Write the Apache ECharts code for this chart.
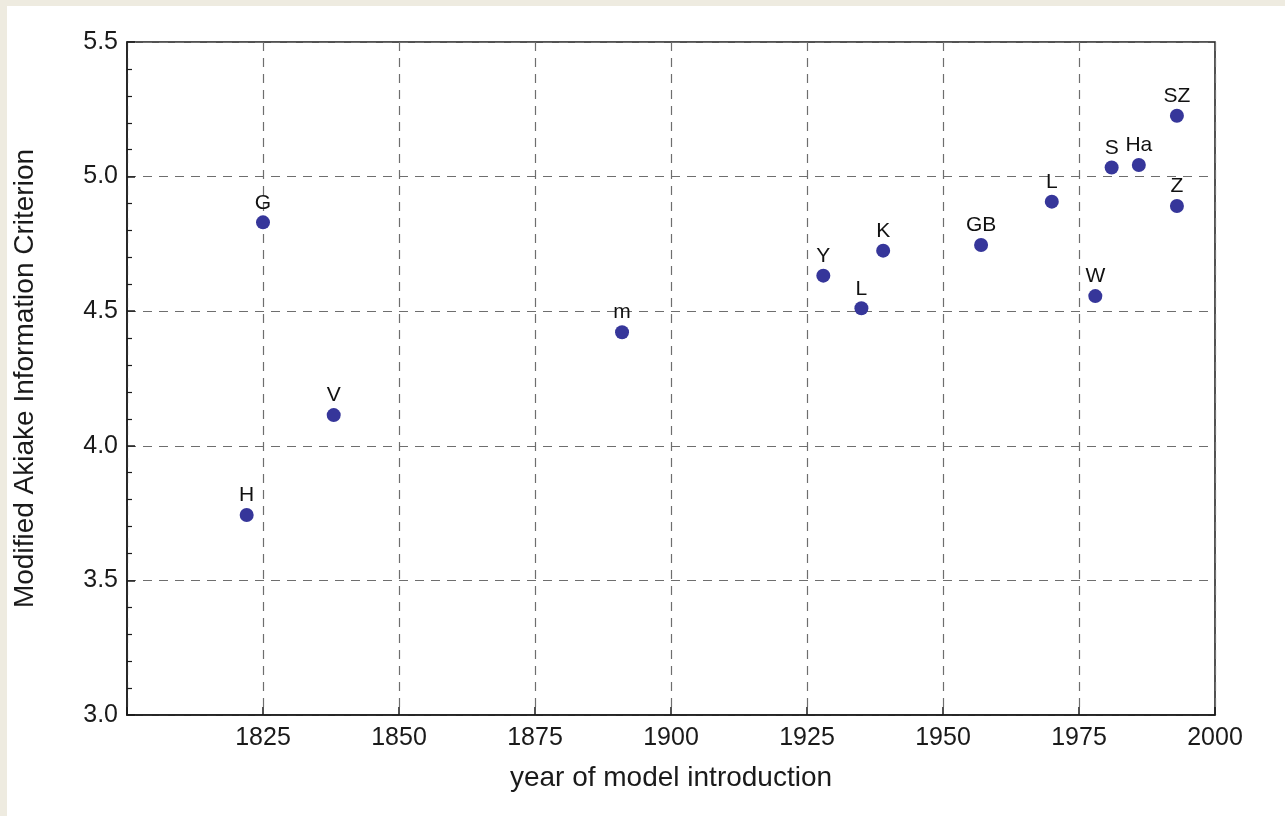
<!DOCTYPE html>
<html>
<head>
<meta charset="utf-8">
<script src="https://cdn.jsdelivr.net/npm/echarts@6/dist/echarts.min.js"></script>
<style>
html,body{margin:0;padding:0;background:#eeebe0;width:1285px;height:816px;overflow:hidden;}
#chart{position:absolute;left:7px;top:6px;width:1278px;height:810px;background:#ffffff;}
</style>
</head>
<body>
<div id="chart"></div>
<script>
const modelLabels = ['H','G','V','m','Y','L','K','GB','L','W','S','Ha','SZ','Z'];
const years = [1822, 1825, 1838, 1891, 1928, 1935, 1939, 1957, 1970, 1978, 1981, 1986, 1993, 1993];
const aicValues = [3.743, 4.830, 4.114, 4.422, 4.632, 4.511, 4.725, 4.746, 4.907, 4.556, 5.034, 5.043, 5.226, 4.891];
const xTicks = [1825, 1850, 1875, 1900, 1925, 1950, 1975, 2000];
const yTicks = [3.0, 3.5, 4.0, 4.5, 5.0, 5.5];

const font = 'Liberation Sans, Arial, Helvetica, sans-serif';
const chart = echarts.init(document.getElementById('chart'));
const data = years.map((y, i) => ({ value: [y, aicValues[i]], name: modelLabels[i] }));

chart.setOption({
  animation: false,
  grid: {
    left: 120, top: 36, right: 70, bottom: 101,
    containLabel: false, outerBoundsMode: 'none',
    show: true, borderColor: '#1a1a1a', borderWidth: 1.5, backgroundColor: 'transparent'
  },
  xAxis: {
    type: 'value', min: 1800, max: 2000, interval: 25,
    name: 'year of model introduction', nameLocation: 'middle', nameGap: 49,
    nameTextStyle: { fontFamily: font, fontSize: 28, color: '#1a1a1a' },
    axisLine: { show: true, lineStyle: { color: '#1a1a1a', width: 1.5 } },
    axisTick: { show: true, inside: true, length: 8, lineStyle: { color: '#1a1a1a', width: 1.5 } },
    axisLabel: {
      fontFamily: font, fontSize: 25, color: '#1a1a1a', margin: 11,
      formatter: v => (xTicks.indexOf(v) >= 0 ? String(v) : '')
    },
    splitLine: { show: true, lineStyle: { color: '#6e6e6e', width: 1.2, type: [9, 7] } }
  },
  yAxis: {
    type: 'value', min: 3.0, max: 5.5, interval: 0.5,
    name: 'Modified Akiake Information Criterion', nameLocation: 'middle', nameGap: 88,
    nameTextStyle: { fontFamily: font, fontSize: 28, color: '#1a1a1a' },
    axisLine: { show: true, lineStyle: { color: '#1a1a1a', width: 1.5 } },
    axisTick: { show: true, inside: true, length: 8, lineStyle: { color: '#1a1a1a', width: 1.5 } },
    minorTick: { show: true, splitNumber: 5, length: 5, lineStyle: { color: '#1a1a1a', width: 1.2 } },
    axisLabel: {
      fontFamily: font, fontSize: 25, color: '#1a1a1a', margin: 9,
      formatter: v => (yTicks.some(t => Math.abs(t - v) < 1e-9) ? v.toFixed(1) : '')
    },
    splitLine: { show: true, lineStyle: { color: '#6e6e6e', width: 1.2, type: [9, 7] } }
  },
  series: [{
    type: 'scatter',
    data: data,
    symbol: 'circle',
    symbolSize: 14,
    itemStyle: { color: '#36369a', opacity: 1 },
    label: {
      show: true, position: 'top', distance: 2,
      formatter: p => p.name,
      fontFamily: font, fontSize: 21, color: '#111111', opacity: 1
    },
    z: 5
  }]
});
</script>
</body>
</html>
